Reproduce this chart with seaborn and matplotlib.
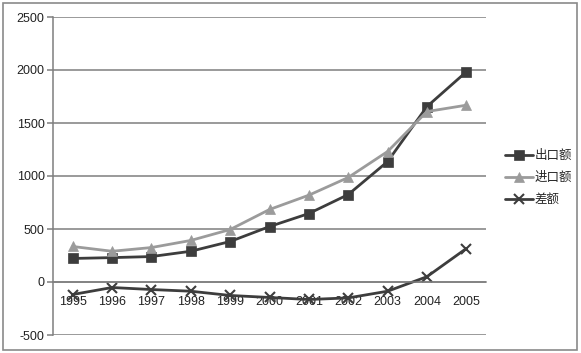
import pandas as pd
import matplotlib.pyplot as plt
import numpy as np
import seaborn as sns
from matplotlib.patches import Rectangle

years = [1995, 1996, 1997, 1998, 1999, 2000, 2001, 2002, 2003, 2004, 2005]
export = [222, 230, 240, 290, 382, 523, 646, 825, 1136, 1655, 1983]
imports = [335, 290, 325, 392, 495, 684, 819, 986, 1231, 1608, 1668]
diff = [-118, -52, -71, -87, -127, -146, -165, -150, -87, 50, 316]
names = ['出口额', '进口额', '差额']

sns.set_style('white')
plt.rcParams['font.family'] = ['Liberation Sans', 'Noto Sans CJK SC', 'DejaVu Sans']
plt.rcParams['axes.unicode_minus'] = False

df = pd.DataFrame({'年份': years * 3,
                   '值': export + imports + diff,
                   '系列': [names[0]] * 11 + [names[1]] * 11 + [names[2]] * 11})

fig = plt.figure(figsize=(5.81, 3.53), dpi=100)
ax = fig.add_axes([53 / 581, 1 - 335 / 353, (486 - 53) / 581, (335 - 17) / 353])

styles = {'出口额': ('#3d3d3d', 's'), '进口额': ('#9b9b9b', '^'), '差额': ('#3d3d3d', 'x')}
for n in names:
    c, m = styles[n]
    sns.lineplot(data=df[df['系列'] == n], x='年份', y='值', ax=ax, color=c,
                 marker=m, markersize=7, linewidth=2, label=n,
                 markeredgecolor=c, markeredgewidth=1.5 if m == 'x' else 0.5)

ax.set_xlim(1994.5, 2005.5)
ax.set_ylim(-500, 2500)
ax.set_yticks(range(-500, 2501, 500))
ax.yaxis.grid(True, color='#7f7f7f', linewidth=1.1)
ax.set_axisbelow(True)
ax.set_xlabel('')
ax.set_ylabel('')

for s in ['top', 'right']:
    ax.spines[s].set_visible(False)
ax.spines['left'].set_color('#7f7f7f')
ax.spines['left'].set_linewidth(1.1)
ax.spines['bottom'].set_position(('data', 0))
ax.spines['bottom'].set_color('#7f7f7f')
ax.spines['bottom'].set_linewidth(1.1)

ax.set_xticks(years)
ax.set_xticklabels([str(y) for y in years])
ax.set_xticks(np.arange(1994.5, 2005.6, 1), minor=True)
ax.tick_params(axis='x', which='major', length=0, pad=10, labelsize=9, colors='#222222')
ax.tick_params(axis='x', which='minor', length=4, width=1.1, color='#7f7f7f', direction='out')
ax.tick_params(axis='y', length=4, width=1.1, color='#7f7f7f', direction='out',
               left=True, pad=2, labelsize=9, labelcolor='#222222')

leg = ax.legend(loc='center left', bbox_to_anchor=(500 / 581, 1 - 178 / 353),
                bbox_transform=fig.transFigure, frameon=False, fontsize=9,
                handlelength=2.2, handletextpad=0.2, labelspacing=0.8, borderaxespad=0)

fig.patches.append(Rectangle((3 / 581, 3 / 353), 574 / 581, 347 / 353, transform=fig.transFigure,
                             fill=False, edgecolor='#8a8a8a', linewidth=1.2))

fig.savefig('out.png', dpi=100)
